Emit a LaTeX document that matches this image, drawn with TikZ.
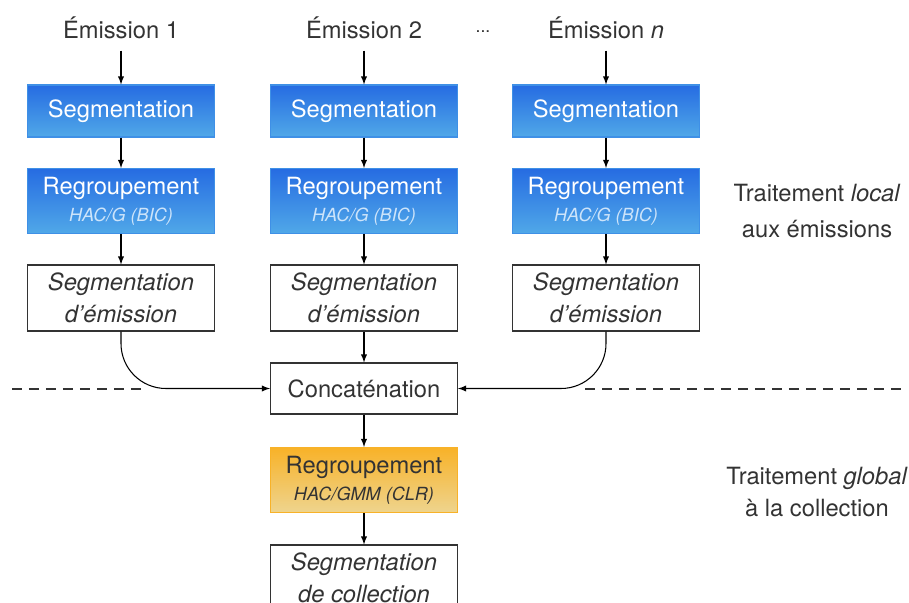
\documentclass[tikz,border=0pt]{standalone}
\usepackage{fontspec}
\setmainfont{TeX Gyre Heros}
\usetikzlibrary{arrows}
\definecolor{bleuhaut}{RGB}{38,108,226}
\definecolor{bleubas}{RGB}{80,168,232}
\definecolor{bleupale}{RGB}{205,228,250}
\definecolor{orhaut}{RGB}{248,178,40}
\definecolor{orbas}{RGB}{238,212,142}
\definecolor{texte}{RGB}{51,51,51}
\newcommand\grandfont{\fontsize{13.5pt}{18.5pt}\selectfont}
\newcommand\petitfont{\fontsize{10.3pt}{12pt}\selectfont\itshape}
\tikzset{
  bloc/.style={draw=texte, line width=0.6pt, minimum width=3.74cm, inner sep=2pt, align=center, text=texte, font=\grandfont},
  bleu/.style={bloc, draw=bleuhaut!40!bleubas, top color=bleuhaut, bottom color=bleubas, text=white},
  orange/.style={bloc, draw=orhaut, top color=orhaut, bottom color=orbas},
  fleche/.style={-latex, line width=0.6pt, draw=black}
}

\begin{document}
\begin{tikzpicture}[x=0.02cm,y=-0.02cm]
\clip (0,0) rectangle (909,602);
\useasboundingbox (0,0) rectangle (909,602);
% emissions
\node[text=texte, font=\grandfont] (t1) at (121,28) {Émission 1};
\node[text=texte, font=\grandfont] (t2) at (364,28) {Émission 2};
\node[text=texte, font=\grandfont] (t3) at (606,28) {Émission \textit{n}};
\node[text=texte, font=\normalsize] (pts) at (483,32) {...};
% traitement local
\node[bleu, minimum height=1.04cm] (s1) at (121,111) {Segmentation};
\node[bleu, minimum height=1.04cm] (s2) at (364,111) {Segmentation};
\node[bleu, minimum height=1.04cm] (s3) at (606,111) {Segmentation};
\node[bleu, minimum height=1.3cm] (r1) at (121,201) {Regroupement\\[-3pt]{\petitfont\color{bleupale}HAC/G (BIC)}};
\node[bleu, minimum height=1.3cm] (r2) at (364,201) {Regroupement\\[-3pt]{\petitfont\color{bleupale}HAC/G (BIC)}};
\node[bleu, minimum height=1.3cm] (r3) at (606,201) {Regroupement\\[-3pt]{\petitfont\color{bleupale}HAC/G (BIC)}};
\node[bloc, minimum height=1.32cm] (d1) at (121,298) {\itshape Segmentation\\\itshape d'émission};
\node[bloc, minimum height=1.32cm] (d2) at (364,298) {\itshape Segmentation\\\itshape d'émission};
\node[bloc, minimum height=1.32cm] (d3) at (606,298) {\itshape Segmentation\\\itshape d'émission};
% traitement global
\node[bloc, minimum height=1.02cm] (conc) at (364,388.5) {Concaténation};
\node[orange, minimum height=1.3cm] (glob) at (364,480) {Regroupement\\[-3pt]{\petitfont HAC/GMM (CLR)}};
\node[bloc, minimum height=1.32cm] (fin) at (364,578) {\itshape Segmentation\\\itshape de collection};
\node[text=texte, font=\grandfont, align=center] (loc) at (817,211) {Traitement \textit{local}\\[2pt]aux émissions};
\node[text=texte, font=\grandfont, align=center] (glo) at (817,492) {Traitement \textit{global}\\à la collection};
% separation
\draw[texte, line width=0.6pt, dash pattern=on 0.2cm off 0.14cm] (12,389) -- (143,389);
\draw[texte, line width=0.6pt, dash pattern=on 0.2cm off 0.14cm] (585,389) -- (905,389);
% fleches
\draw[fleche, shorten <=3pt] (t1) -- (s1);
\draw[fleche, shorten <=3pt] (t2) -- (s2);
\draw[fleche, shorten <=3pt] (t3) -- (s3);
\draw[fleche] (s1) -- (r1);
\draw[fleche] (s2) -- (r2);
\draw[fleche] (s3) -- (r3);
\draw[fleche] (r1) -- (d1);
\draw[fleche] (r2) -- (d2);
\draw[fleche] (r3) -- (d3);
\draw[fleche] (d2) -- (conc);
\draw[fleche, rounded corners=0.9cm] (d1.south) |- (conc.west);
\draw[fleche, rounded corners=0.9cm] (d3.south) |- (conc.east);
\draw[fleche] (conc) -- (glob);
\draw[fleche] (glob) -- (fin);
\end{tikzpicture}
\end{document}
